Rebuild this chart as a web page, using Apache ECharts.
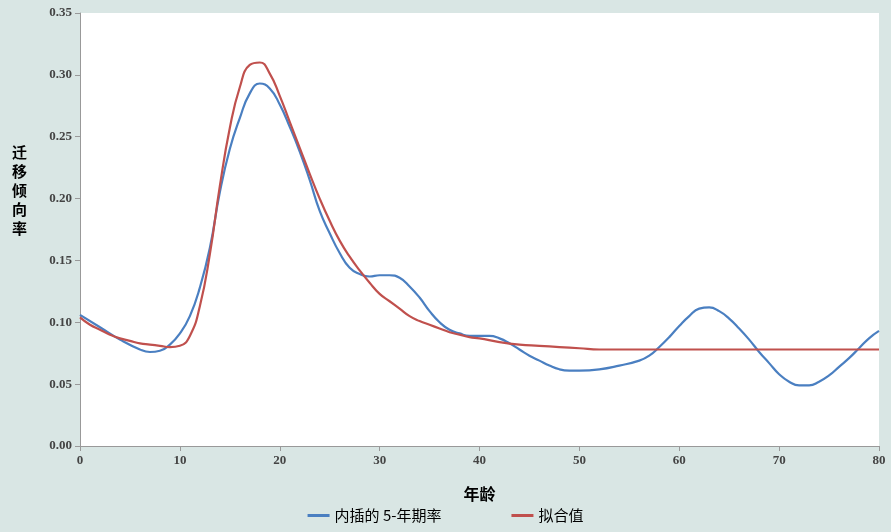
<!DOCTYPE html><html><head><meta charset="utf-8">
<script src="https://cdn.jsdelivr.net/npm/echarts@6/dist/echarts.min.js"></script>
<style>html,body{margin:0;background:#d9e6e4}#c{width:891px;height:532px}</style></head><body><div id="c"></div>
<script>
const blueAges=[0,2,4,6,7,8,9,10,11,12,13,14,15,16,17,18,19,20,21,22,23,24,25,26,27,28,29,30,31,32,33,34,35,36,37,38,39,40,41,42,43,44,45,46,47,48,49,50,52,54,56,57,58,59,60,61,62,63,64,65,66,67,68,69,70,71,72,73,74,75,76,77,78,79,80];
const blueVals=[0.106,0.096,0.086,0.078,0.076,0.077,0.082,0.091,0.105,0.128,0.16,0.205,0.24,0.265,0.285,0.293,0.289,0.276,0.258,0.238,0.215,0.19,0.172,0.156,0.144,0.139,0.137,0.138,0.138,0.136,0.129,0.12,0.109,0.1,0.094,0.091,0.089,0.089,0.089,0.087,0.083,0.078,0.073,0.069,0.065,0.062,0.061,0.061,0.062,0.065,0.069,0.073,0.08,0.088,0.097,0.105,0.111,0.112,0.109,0.103,0.095,0.086,0.076,0.067,0.058,0.052,0.049,0.049,0.052,0.057,0.064,0.071,0.079,0.087,0.093];
const redAges=[0,1,2,3,4,5,6,7,8,9,10,11,12,13,14,15,16,17,18,19,20,21,22,23,24,25,26,27,28,29,30,31,32,33,34,35,36,37,38,39,40,42,44,46,48,50,52,55,60,70,80];
const redVals=[0.104,0.098,0.094,0.09,0.087,0.085,0.083,0.082,0.081,0.08,0.081,0.089,0.113,0.155,0.21,0.257,0.29,0.308,0.31,0.301,0.283,0.262,0.241,0.22,0.2,0.182,0.166,0.153,0.142,0.132,0.123,0.117,0.111,0.105,0.101,0.098,0.095,0.092,0.09,0.088,0.087,0.084,0.082,0.081,0.08,0.079,0.078,0.078,0.078,0.078,0.078];
const names=['内插的 5-年期率','拟合值'];
const ch=echarts.init(document.getElementById('c'));
const lab={color:'#444',fontSize:13,fontWeight:'bold',fontFamily:'Liberation Serif'};
ch.setOption({
 animation:false,
 grid:{left:80,right:12,top:13,bottom:86,show:true,backgroundColor:'#fff',borderWidth:0},
 xAxis:{type:'value',min:0,max:80,interval:10,name:'年龄',nameLocation:'middle',nameGap:40,
  nameTextStyle:{fontSize:16,fontWeight:'bold',color:'#000',fontFamily:'Noto Sans CJK SC'},
  axisLine:{lineStyle:{color:'#999'}},axisTick:{show:true,lineStyle:{color:'#999'}},splitLine:{show:false},axisLabel:lab},
 yAxis:{type:'value',min:0,max:0.35,interval:0.05,
  axisLine:{show:true,lineStyle:{color:'#999'}},axisTick:{show:true,lineStyle:{color:'#999'}},splitLine:{show:false},
  axisLabel:Object.assign({formatter:v=>v.toFixed(2)},lab)},
 graphic:[{type:'text',left:12,top:143,style:{text:'迁\n移\n倾\n向\n率',fontSize:15,fontWeight:'bold',lineHeight:19,fill:'#000',fontFamily:'Noto Sans CJK SC'}}],
 legend:{bottom:4,left:'center',itemGap:70,icon:'rect',itemWidth:22,itemHeight:3,textStyle:{fontSize:15,color:'#000',fontFamily:'Noto Sans CJK SC'},data:names},
 series:[
  {name:names[0],type:'line',smooth:true,showSymbol:false,lineStyle:{width:2.2,color:'#4a7fc1'},itemStyle:{color:'#4a7fc1'},data:blueAges.map((a,i)=>[a,blueVals[i]])},
  {name:names[1],type:'line',smooth:true,showSymbol:false,lineStyle:{width:2.2,color:'#c0504d'},itemStyle:{color:'#c0504d'},data:redAges.map((a,i)=>[a,redVals[i]])}
 ]
});
</script></body></html>
